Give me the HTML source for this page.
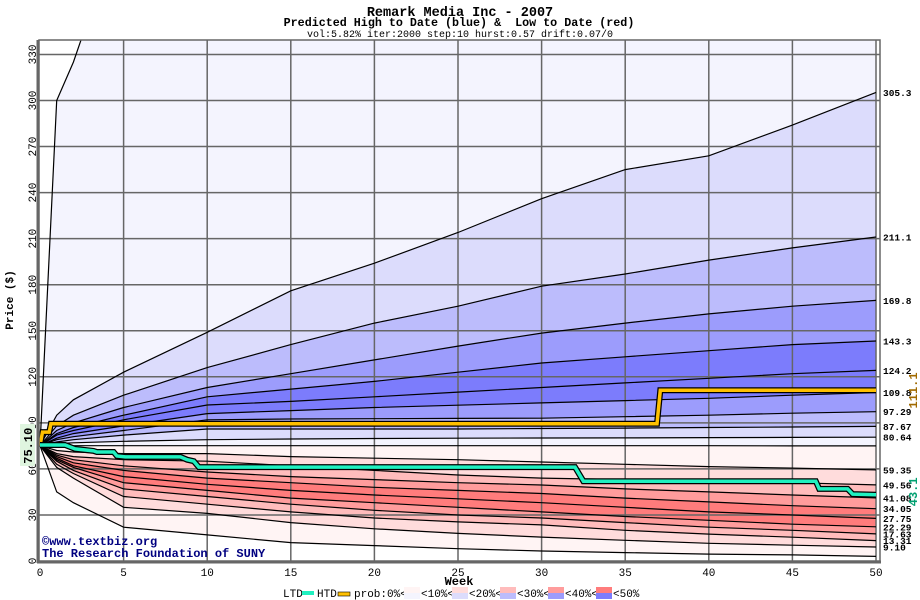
<!DOCTYPE html>
<html><head><meta charset="utf-8"><style>
html,body{margin:0;padding:0;background:#fff;}
svg{display:block;}
text{font-family:"Liberation Mono","DejaVu Sans Mono",monospace;}
</style></head><body>
<svg id="chart" width="920" height="600" viewBox="0 0 920 600" xmlns="http://www.w3.org/2000/svg">
<defs><clipPath id="plotclip"><rect x="39" y="40" width="841" height="521"/></clipPath></defs>
<text x="460" y="16" text-anchor="middle" font-size="13.5" font-weight="bold">Remark Media Inc - 2007</text>
<text x="459" y="26" text-anchor="middle" font-size="11.7" font-weight="bold" xml:space="preserve">Predicted High to Date (blue) &amp;  Low to Date (red)</text>
<text x="460" y="37" text-anchor="middle" font-size="10">vol:5.82% iter:2000 step:10 hurst:0.57 drift:0.07/0</text>
<g id="bands" clip-path="url(#plotclip)"></g>
<g id="grid"></g>
<g id="curves" clip-path="url(#plotclip)"></g>
<g id="paths" clip-path="url(#plotclip)"></g>
<g id="axes"></g>
<text transform="translate(13,300) rotate(-90)" text-anchor="middle" font-size="11" font-weight="bold">Price ($)</text>
<text x="459" y="585" text-anchor="middle" font-size="12" font-weight="bold">Week</text>
<text x="42" y="545" font-size="12" font-weight="bold" fill="#000080">©www.textbiz.org</text>
<text x="42" y="557" font-size="12" font-weight="bold" fill="#000080">The Research Foundation of SUNY</text>
<g id="legend"></g>
</svg>
<script>
const weeks = [0,1,2,5,10,15,20,25,30,35,40,45,50];
const curveMax = [75.1,300,325,420,500,560,600,640,680,700,720,740,760];
const curve305 = [75.1,95,105,123,149,176,194,214,236,255,264,284,305.3];
const curve211 = [75.1,88,95,108,126,141,155,166,179,187,196,204,211.1];
const curve170 = [75.1,85,90,100,113,122,131,140,148.5,155,161,166,169.8];
const curve143 = [75.1,83,87,95,107,112,117,123,129,133,137,141,143.3];
const curve124 = [75.1,82,85,92,101.6,104,107,110,113,116,119,122,124.2];
const curve110 = [75.1,80,83,88,96,98,100,101.5,103,104.5,106,108,109.8];
const curve97 = [75.1,79,81,85,92,92.5,92.7,92.9,93,94,95,96.3,97.29];
const curve88 = [75.1,77.5,79,82,86,86,86,86,86.3,86.6,87,87.3,87.67];
const curve81 = [75.1,76.5,77,78,79,79.5,79.8,80,80.1,80.2,80.4,80.5,80.64];
const curveMed = [75.1,75.1,75.1,75.1,75.1,75.1,75.1,75.1,75.1,75.1,75.1,75,75];
const curve59 = [75.1,72,71,70,70,68,67,66,64.5,63,61.5,60.5,59.35];
const curve50 = [75.1,70,68,66,65,62,59,56,54,53,52,51,49.56];
const curve41 = [75.1,69,66,62,58,55,53,51,49.5,47,45,43,41.08];
const curve34 = [75.1,68,64,59,54,51,48,46,44,41,38.5,36,34.05];
const curve28 = [75.1,67,62,55,50,46,43,40.5,38,35,32,30,27.75];
const curve22 = [75.1,66,61,51,46,41,38,35,32,29,26.5,24,22.29];
const curve18 = [75.1,65,59,47,42,37,33,30,28,25,22,20,17.63];
const curve13 = [75.1,63,57,42,37,32,28,25.5,23.5,20,17.5,15.5,13.31];
const curve9 = [75.1,61,54,35,31,25,21,18,15.6,13.5,11.5,10.3,9.1];
const curveMin = [75.1,45,38,22,17,12,10,8,6.5,5.5,4.5,4,3];
const endLabels = ["305.3","211.1","169.8","143.3","124.2","109.8","97.29","87.67","80.64","59.35","49.56","41.08","34.05","27.75","22.29","17.63","13.31","9.10"];
const htdWeeks = [0,0.15,0.55,0.65,36.9,37.1,50];
const htdValues = [75.1,84,84,89.4,89.4,111.2,111.2];
const ltdWeeks = [0,1.5,2.1,3.2,3.4,4.4,4.6,5.1,8.4,8.8,9.2,9.5,32.0,32.5,46.4,46.6,48.3,48.6,50];
const ltdValues = [75.6,75.6,73,71.7,71,71,68.4,67.8,67.8,66,65,61.2,61.2,52,52,47,47,43.6,43.1];
const xTicks = [0,5,10,15,20,25,30,35,40,45,50];
const yTicks = [0,30,60,90,120,150,180,210,240,270,300,330];
const blues = ["#f4f4fe","#dcdcfc","#bcbcfc","#9c9cfc","#7c7cfc"];
const reds = ["#fff4f4","#ffdcdc","#ffbcbc","#ff9c9c","#ff7c7c"];

const NS = "http://www.w3.org/2000/svg";
function xs(w){ return 40 + w*16.72; }
function ys(v){ return 561 - v*1.535; }
function mk(tag, parent, attrs){ const e=document.createElementNS(NS,tag); for(const k in attrs) e.setAttribute(k,attrs[k]); parent.appendChild(e); return e; }
function pts(ws, vs){ return ws.map((w,i)=>xs(w).toFixed(1)+","+ys(vs[i]).toFixed(1)).join(" "); }

const curves = [curveMax,curve305,curve211,curve170,curve143,curve124,curve110,curve97,curve88,curve81,curveMed,curve59,curve50,curve41,curve34,curve28,curve22,curve18,curve13,curve9,curveMin];
const bandColors = [blues[0],blues[1],blues[2],blues[3],blues[4],blues[4],blues[3],blues[2],blues[1],blues[0],reds[0],reds[1],reds[2],reds[3],reds[4],reds[4],reds[3],reds[2],reds[1],reds[0]];
const bandG = document.getElementById('bands');
for(let i=0;i<curves.length-1;i++){
  const a=curves[i], b=curves[i+1];
  const p = pts(weeks,a)+" "+weeks.slice().reverse().map((w,j)=>{const k=weeks.length-1-j;return xs(w).toFixed(1)+","+ys(b[k]).toFixed(1);}).join(" ");
  const poly = mk('polygon', bandG, {points:p, fill:bandColors[i]});
  
  
}
const gridG = document.getElementById('grid');
xTicks.forEach(t=>{ if(t===0) return; const l=mk('line',gridG,{x1:xs(t),x2:xs(t),y1:40,y2:561,stroke:'#666','stroke-width':1.5});
    });
yTicks.forEach(t=>{ if(t===0) return; const l=mk('line',gridG,{x1:39,x2:880,y1:ys(t),y2:ys(t),stroke:'#666','stroke-width':1.5});
    });
const curveG = document.getElementById('curves');
curves.forEach(c=>{ const pl=mk('polyline',curveG,{points:pts(weeks,c),fill:'none',stroke:'#000','stroke-width':1.2});
    });
const pathG = document.getElementById('paths');
let e;
e=mk('polyline',pathG,{points:pts(htdWeeks,htdValues),fill:'none',stroke:'#000','stroke-width':6});
 
e=mk('polyline',pathG,{points:pts(htdWeeks,htdValues),fill:'none',stroke:'#ffc000','stroke-width':3.5});
 
e=mk('polyline',pathG,{points:pts(ltdWeeks,ltdValues),fill:'none',stroke:'#000','stroke-width':6});
 
e=mk('polyline',pathG,{points:pts(ltdWeeks,ltdValues),fill:'none',stroke:'#20f0c0','stroke-width':3.5});
 

const axG = document.getElementById('axes');
e=mk('rect',axG,{x:39,y:40,width:841,height:521,fill:'none',stroke:'#666','stroke-width':1.5});
 
e=mk('line',axG,{x1:38,x2:38,y1:40,y2:563,stroke:'#666','stroke-width':3});
 
e=mk('line',axG,{x1:37,x2:881,y1:562,y2:562,stroke:'#666','stroke-width':3});
 
xTicks.forEach(t=>{ const tx=mk('text',axG,{x:xs(t),y:576,'text-anchor':'middle','font-size':11,'font-family':'Liberation Sans, sans-serif'}); tx.textContent=t;
    });
yTicks.forEach(t=>{ const tx=mk('text',axG,{transform:`translate(36,${ys(t)}) rotate(-90)`,'text-anchor':'middle','font-size':11,'font-family':'Liberation Sans, sans-serif'}); tx.textContent=t;
    });
const endCurves=[curve305,curve211,curve170,curve143,curve124,curve110,curve97,curve88,curve81,curve59,curve50,curve41,curve34,curve28,curve22,curve18,curve13,curve9];
endCurves.forEach((c,i)=>{ const tx=mk('text',axG,{x:883,y:ys(c[c.length-1])+3.5,'font-size':9.5,'font-weight':'bold'}); tx.textContent=endLabels[i];
    });
e=mk('rect',axG,{x:20,y:424,width:15,height:42,fill:'#dff5df'});  
e=mk('text',axG,{transform:`translate(32,${ys(75.1)}) rotate(-90)`,'text-anchor':'middle','font-size':12,'font-weight':'bold'}); e.textContent='75.10';
 
e=mk('text',axG,{transform:`translate(917,${ys(111.1)}) rotate(-90)`,'text-anchor':'middle','font-size':12,'font-weight':'bold',fill:'#a06a00'}); e.textContent='111.1';
 
e=mk('text',axG,{transform:`translate(917,${ys(43.1)-3}) rotate(-90)`,'text-anchor':'middle','font-size':12,'font-weight':'bold',fill:'#00a070'}); e.textContent='43.1';
 

const lg=document.getElementById('legend');
function ltxt(x,s,name){ const t=mk('text',lg,{x:x,y:597,'font-size':11,'font-family':'Liberation Sans, sans-serif'}); t.textContent=s;   }
ltxt(283,'LTD','legend-ltd-label');
e=mk('rect',lg,{x:302,y:591,width:12,height:4,fill:'#20f0c0'});  
ltxt(317,'HTD','legend-htd-label');
e=mk('rect',lg,{x:338,y:592,width:12,height:4,fill:'#ffc000',stroke:'#000','stroke-width':0.6});  
ltxt(354,'prob:0%<','legend-prob-label');
const lgLabels=['<10%<','<20%<','<30%<','<40%<','<50%'];
for(let i=0;i<5;i++){
  const x=404+i*48;
  e=mk('rect',lg,{x:x,y:587,width:16,height:6,fill:reds[i]});  
  e=mk('rect',lg,{x:x,y:593,width:16,height:6,fill:blues[i]});  
  ltxt(x+17,lgLabels[i],'legend-range-label');
}
</script>
</body></html>
